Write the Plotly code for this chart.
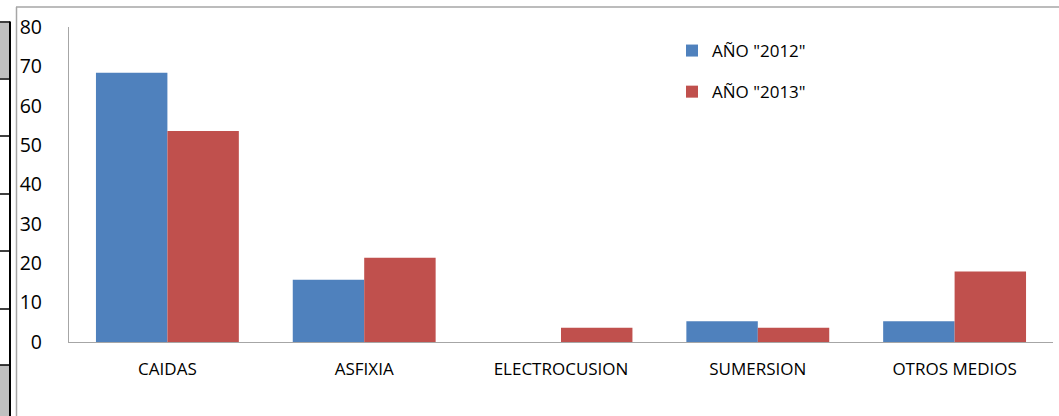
import plotly.graph_objects as go

categories = ["CAIDAS", "ASFIXIA", "ELECTROCUSION", "SUMERSION", "OTROS MEDIOS"]
values_2012 = [68.4, 15.8, 0, 5.3, 5.3]
values_2013 = [53.6, 21.4, 3.6, 3.6, 17.9]
series_names = ['AÑO "2012"', 'AÑO "2013"']
y_ticks = [0, 10, 20, 30, 40, 50, 60, 70, 80]

W, H = 1059, 416
L, R, T, B = 69, 6, 27, 74
PW, PH = W - L - R, H - T - B

def px(x):
    return (x - L) / PW

def py(y):
    return (H - B - y) / PH

fig = go.Figure()
fig.add_trace(go.Bar(x=categories, y=values_2012, name=series_names[0],
                     marker=dict(color="#4F81BD", line=dict(width=0)), legendgroup="a"))
fig.add_trace(go.Bar(x=categories, y=values_2013, name=series_names[1],
                     marker=dict(color="#C0504D", line=dict(width=0)), legendgroup="b"))

shapes = []
# chart area border (top and left)
shapes.append(dict(type="line", xref="paper", yref="paper", x0=px(16), x1=px(1060), y0=py(7), y1=py(7),
                   line=dict(color="#a6a6a6", width=1.5)))
shapes.append(dict(type="line", xref="paper", yref="paper", x0=px(16.5), x1=px(16.5), y0=py(7), y1=py(417),
                   line=dict(color="#a6a6a6", width=1.5)))
# table fragment at left
for (y0, y1) in [(23, 78), (365, 417)]:
    shapes.append(dict(type="rect", xref="paper", yref="paper", x0=px(-1), x1=px(9), y0=py(y0), y1=py(y1),
                       fillcolor="#c0c0c0", line=dict(width=0)))
for yy in [22, 79, 136, 194, 251, 309, 365]:
    shapes.append(dict(type="line", xref="paper", yref="paper", x0=px(-1), x1=px(10), y0=py(yy), y1=py(yy),
                       line=dict(color="#000000", width=1.5)))
shapes.append(dict(type="line", xref="paper", yref="paper", x0=px(10), x1=px(10), y0=py(21.5), y1=py(417),
                   line=dict(color="#000000", width=2)))

fig.update_layout(
    width=W, height=H,
    margin=dict(l=L, r=R, t=T, b=B, autoexpand=False),
    paper_bgcolor="white", plot_bgcolor="white",
    barmode="group", bargap=0.274, bargroupgap=0,
    font=dict(family="Open Sans, sans-serif", color="#000000"),
    xaxis=dict(showline=True, linecolor="#a6a6a6", linewidth=1.2, showgrid=False,
               tickfont=dict(size=17), ticks="", ticklabelstandoff=11, zeroline=False),
    yaxis=dict(range=[0, 80], tickvals=y_ticks, showline=True, linecolor="#a6a6a6", linewidth=1.2,
               showgrid=False, zeroline=False, tickfont=dict(size=19.5), ticks="", ticklabelstandoff=22),
    legend=dict(x=px(672), y=py(33), xanchor="left", yanchor="top", font=dict(size=17),
                tracegroupgap=16, bgcolor="rgba(0,0,0,0)"),
    shapes=shapes,
)

fig.write_html("out.html", config={"displayModeBar": False},
               post_script="document.body.style.margin='0px';document.body.style.overflow='hidden';")
